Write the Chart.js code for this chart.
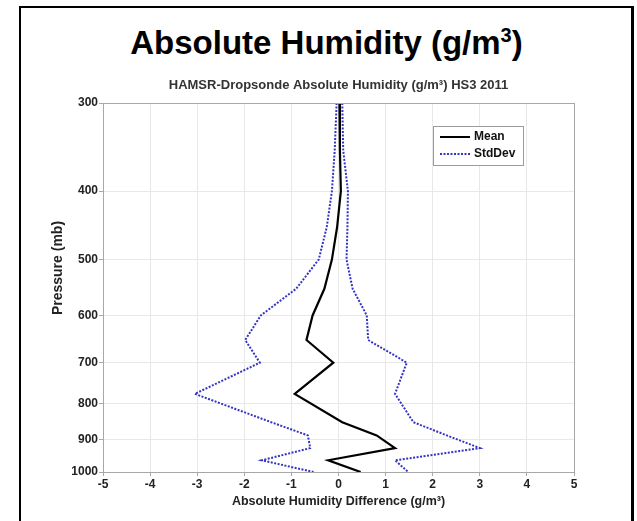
<!DOCTYPE html>
<html>
<head>
<meta charset="utf-8">
<script src="https://cdn.jsdelivr.net/npm/chart.js@4"></script>
<style>
  html, body { margin: 0; padding: 0; background: #fff; }
  body { width: 637px; height: 521px; position: relative; overflow: hidden; }
  #frame {
    position: absolute; left: 19px; top: 6px; width: 610px; height: 540px;
    border: 2px solid #000; border-right-width: 3px;
  }
  #bigTitle {
    position: absolute; left: 19px; width: 615px; top: 24px; text-align: center;
    font-family: "Liberation Sans", Arial, sans-serif; font-weight: bold; font-size: 33px;
    color: #000; line-height: 38px;
  }
  #bigTitle sup { font-size: 20px; line-height: 0; vertical-align: 12px; }
  #wrap { position: absolute; left: 0; top: 0; width: 637px; height: 521px; }
</style>
</head>
<body>
<div id="frame"></div>
<div id="bigTitle">Absolute Humidity (g/m<sup>3</sup>)</div>
<div id="wrap"><canvas id="chart"></canvas></div>
<script>
// pressure levels (mb)
const pressure = [300, 350, 400, 450, 500, 550, 600, 650, 700, 775, 850, 887.5, 925, 962.5, 1000];
// HAMSR - dropsonde absolute humidity difference (g/m3)
const meanDiff = [0.02, 0.03, 0.05, -0.03, -0.14, -0.3, -0.55, -0.68, -0.11, -0.93, 0.08, 0.81, 1.2, -0.22, 0.47];
const stdLow = [-0.04, -0.08, -0.14, -0.25, -0.42, -0.9, -1.65, -1.98, -1.67, -3.05, -1.43, -0.65, -0.6, -1.63, -0.53];
const stdHigh = [0.08, 0.1, 0.2, 0.19, 0.17, 0.3, 0.6, 0.63, 1.45, 1.2, 1.59, 2.3, 3.0, 1.2, 1.48];

const yTicks = [300, 400, 500, 600, 700, 800, 900, 1000];
const xTicks = [-5, -4, -3, -2, -1, 0, 1, 2, 3, 4, 5];

const subTitle = 'HAMSR-Dropsonde Absolute Humidity (g/m³) HS3 2011';
const yTitle = 'Pressure (mb)';

const FONT = '"Liberation Sans", Arial, sans-serif';
const BLUE = '#3434c4';

function pts(xs) {
    return xs.map((x, i) => ({ x: x, y: pressure[i] }));
}

// grey box round the plot area, axes title centred over the plot, y label
const boxPlugin = {
    id: 'box',
    afterDraw(chart) {
        const a = chart.chartArea, c = chart.ctx;
        c.save();
        c.strokeStyle = '#a8a8a8';
        c.lineWidth = 1;
        c.strokeRect(a.left + 0.5, a.top + 0.5, a.right - a.left, a.bottom - a.top);
        c.fillStyle = '#333';
        c.font = 'bold 13px ' + FONT;
        c.textAlign = 'center';
        c.textBaseline = 'middle';
        c.fillText(subTitle, (a.left + a.right) / 2, a.top - 18);
        // matlab puts the ylabel a bit above the middle here
        c.translate(a.left - 45, a.top + 165);
        c.rotate(-Math.PI / 2);
        c.fillStyle = '#222';
        c.font = 'bold 14px ' + FONT;
        c.fillText(yTitle, 0, 0);
        c.restore();
    }
};

// legend box inside the axes, top right
const legendBox = {
    id: 'legendBox',
    afterDraw(chart) {
        const a = chart.chartArea, c = chart.ctx;
        const x0 = a.right - 141, y0 = a.top + 23, w = 90, h = 39;
        c.save();
        c.fillStyle = '#fff';
        c.fillRect(x0, y0, w, h);
        c.strokeStyle = '#9a9a9a';
        c.lineWidth = 1;
        c.strokeRect(x0 + 0.5, y0 + 0.5, w, h);
        c.font = 'bold 12px ' + FONT;
        c.textBaseline = 'middle';
        chart.data.datasets.slice(0, 2).forEach((ds, i) => {
            const yy = y0 + 11 + i * 17;
            c.strokeStyle = ds.borderColor;
            c.lineWidth = 2;
            c.setLineDash(ds.borderDash || []);
            c.beginPath();
            c.moveTo(x0 + 7, yy);
            c.lineTo(x0 + 37, yy);
            c.stroke();
            c.setLineDash([]);
            c.fillStyle = '#111';
            c.fillText(ds.label, x0 + 41, yy);
        });
        c.restore();
    }
};

new Chart(document.getElementById('chart'), {
    type: 'scatter',
    data: {
        datasets: [
            { label: 'Mean', data: pts(meanDiff), borderColor: '#000', borderWidth: 2.2, showLine: true, pointRadius: 0 },
            { label: 'StdDev', data: pts(stdLow), borderColor: BLUE, borderWidth: 2, borderDash: [2, 1.5], showLine: true, pointRadius: 0 },
            { label: 'StdDev-high', data: pts(stdHigh), borderColor: BLUE, borderWidth: 2, borderDash: [2, 1.5], showLine: true, pointRadius: 0 }
        ]
    },
    plugins: [boxPlugin, legendBox],
    options: {
        responsive: true,
        maintainAspectRatio: false,
        animation: false,
        layout: { padding: { left: 0, right: 63, top: 103, bottom: 0 } },
        plugins: {
            legend: { display: false },
            tooltip: { enabled: false },
            title: { display: false }
        },
        scales: {
            x: {
                type: 'linear',
                min: -5, max: 5,
                afterBuildTicks: s => { s.ticks = xTicks.map(v => ({ value: v })); },
                afterFit: s => { s.height = 49; },
                grid: { color: '#e8e8e8', tickLength: 4, tickColor: '#a8a8a8' },
                border: { color: '#a8a8a8' },
                ticks: { color: '#222', font: { family: FONT, size: 12, weight: 'bold' }, padding: 1, maxRotation: 0 },
                title: {
                    display: true,
                    text: 'Absolute Humidity Difference (g/m³)',
                    color: '#222',
                    font: { family: FONT, size: 12.5, weight: 'bold' },
                    padding: { top: 2, bottom: 12 }
                }
            },
            y: {
                type: 'logarithmic',
                reverse: true,
                min: 300, max: 1000,
                afterBuildTicks: s => { s.ticks = yTicks.map(v => ({ value: v })); },
                afterFit: s => { s.width = 103; },
                grid: { color: '#e8e8e8', tickLength: 4, tickColor: '#a8a8a8' },
                border: { color: '#a8a8a8' },
                ticks: {
                    color: '#222',
                    font: { family: FONT, size: 12, weight: 'bold' },
                    padding: 1,
                    callback: v => String(v)
                }
            }
        }
    }
});
</script>
</body>
</html>
